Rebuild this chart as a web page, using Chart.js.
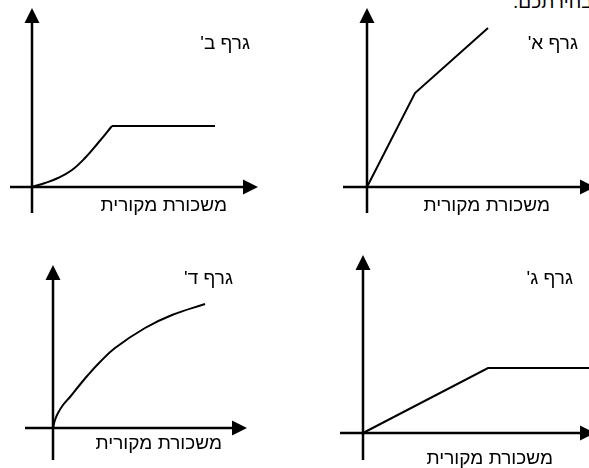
<!DOCTYPE html>
<html lang="he">
<head>
<meta charset="utf-8">
<script src="https://cdn.jsdelivr.net/npm/chart.js@4"></script>
<style>
  html, body { margin: 0; padding: 0; background: #fff; }
  body { width: 589px; height: 468px; position: relative; overflow: hidden;
         font-family: "Liberation Sans", Arial, "DejaVu Sans", sans-serif; font-size: 19px; color: #000; }
  canvas { position: absolute; }
  .lbl { position: absolute; direction: rtl; white-space: nowrap; line-height: 20px; }
</style>
</head>
<body>
<div class="lbl" style="left:513px; top:-8px;">נמקו את בחירתכם.</div>

<canvas id="graphA" width="252" height="205" style="left:343px; top:8px;"></canvas>
<canvas id="graphB" width="248" height="205" style="left:10px; top:8px;"></canvas>
<canvas id="graphC" width="255" height="205" style="left:340px; top:255px;"></canvas>
<canvas id="graphD" width="222" height="195" style="left:25px; top:265px;"></canvas>

<div class="lbl" style="right:11px; top:33px;">גרף א'</div>
<div class="lbl" style="right:339px; top:33px;">גרף ב'</div>
<div class="lbl" style="right:16px; top:268px;">גרף ג'</div>
<div class="lbl" style="right:356px; top:268px;">גרף ד'</div>

<div class="lbl" style="right:39px; top:195px;">משכורת מקורית</div>
<div class="lbl" style="right:362px; top:195px;">משכורת מקורית</div>
<div class="lbl" style="right:36px; top:448px;">משכורת מקורית</div>
<div class="lbl" style="right:367px; top:433px;">משכורת מקורית</div>

<script>
// values (arbitrary units, origin = 0,0)
const graphA_x = [0, 4.8, 12.1];
const graphA_y = [0, 9.4, 15.9];

// graph B: smooth rise up to the corner, then a flat straight line
const graphB_x = [0, 1.3, 2.6, 4.0, 5.3, 6.6, 8.0, 18.3];
const graphB_y = [0, 0.4, 0.9, 1.7, 2.9, 4.4, 6.1, 6.1];
const graphB_corner = 6;

const graphC_x = [0, 12.5, 23.5];
const graphC_y = [0, 6.5, 6.5];

const graphD_x = [0, 0.2, 0.5, 1.0, 1.7, 2.5, 3.5, 4.7, 6.2, 9.2, 11.9, 15.2];
const graphD_y = [0, 0.8, 1.5, 2.3, 3.1, 4.1, 5.3, 6.6, 8.0, 10.0, 11.3, 12.4];

function toPoints(xs, ys) {
    return xs.map(function(x, i) { return { x: x, y: ys[i] }; });
}

// draws the two axes through 0,0 with arrow heads at the far ends
const arrowAxes = {
    id: 'arrowAxes',
    beforeDatasetsDraw: function(chart) {
        const ctx = chart.ctx;
        const xs = chart.scales.x;
        const ys = chart.scales.y;
        const x0 = xs.getPixelForValue(0);
        const y0 = ys.getPixelForValue(0);
        const len = 15, half = 7.5;
        ctx.save();
        ctx.strokeStyle = '#000';
        ctx.fillStyle = '#000';
        ctx.lineWidth = 2.5;
        ctx.beginPath();
        ctx.moveTo(xs.left, y0);
        ctx.lineTo(xs.right - len, y0);
        ctx.moveTo(x0, ys.bottom);
        ctx.lineTo(x0, ys.top + len);
        ctx.stroke();
        ctx.beginPath();
        ctx.moveTo(xs.right, y0);
        ctx.lineTo(xs.right - len, y0 - half);
        ctx.lineTo(xs.right - len, y0 + half);
        ctx.closePath();
        ctx.moveTo(x0, ys.top);
        ctx.lineTo(x0 - half, ys.top + len);
        ctx.lineTo(x0 + half, ys.top + len);
        ctx.closePath();
        ctx.fill();
        ctx.restore();
    }
};

function lineSet(points, tension) {
    return {
        data: points,
        borderColor: '#000',
        borderWidth: 2,
        pointRadius: 0,
        fill: false,
        tension: tension
    };
}

function makeGraph(id, datasets, xRange, yRange) {
    new Chart(document.getElementById(id), {
        type: 'line',
        data: { datasets: datasets },
        options: {
            responsive: false,
            animation: false,
            layout: { padding: 0 },
            scales: {
                x: { type: 'linear', min: xRange[0], max: xRange[1], display: false },
                y: { type: 'linear', min: yRange[0], max: yRange[1], display: false }
            },
            plugins: {
                legend: { display: false },
                tooltip: { enabled: false }
            }
        },
        plugins: [arrowAxes]
    });
}

const pointsB = toPoints(graphB_x, graphB_y);

makeGraph('graphA', [lineSet(toPoints(graphA_x, graphA_y), 0)], [-2.4, 22.8], [-2.6, 17.9]);
makeGraph('graphB', [
    lineSet(pointsB.slice(0, graphB_corner + 1), 0.4),
    lineSet(pointsB.slice(graphB_corner), 0)
], [-2.2, 22.6], [-2.6, 17.9]);
makeGraph('graphC', [lineSet(toPoints(graphC_x, graphC_y), 0)], [-2.3, 23.2], [-2.7, 17.8]);
makeGraph('graphD', [lineSet(toPoints(graphD_x, graphD_y), 0.4)], [-2.8, 19.4], [-3.2, 16.3]);
</script>
</body>
</html>
